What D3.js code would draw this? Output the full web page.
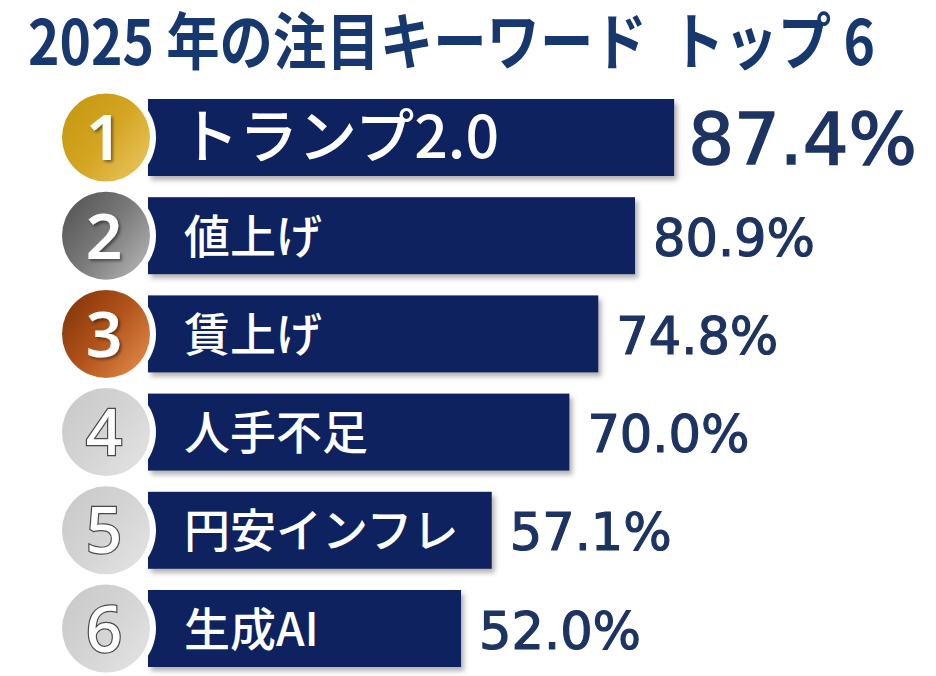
<!DOCTYPE html>
<html>
<head>
<meta charset="utf-8">
<script src="https://cdn.jsdelivr.net/npm/d3@7"></script>
<style>
  html, body { margin: 0; padding: 0; background: #fff; }
  svg { display: block; }
</style>
</head>
<body>
<script>
const title = "2025 年の注目キーワード  トップ 6";
const ranks = ["1", "2", "3", "4", "5", "6"];
const keywords = ["トランプ2.0", "値上げ", "賃上げ", "人手不足", "円安インフレ", "生成AI"];
const values = [87.4, 80.9, 74.8, 70.0, 57.1, 52.0];

const w = 936, h = 676;
const navy = "#0b205e";
const textNavy = "#1d3462";

const svg = d3.select("body").append("svg")
  .attr("width", w)
  .attr("height", h);

const defs = svg.append("defs");

// drop shadow for bars
const shadow = defs.append("filter").attr("id", "shadow")
  .attr("x", "-5%").attr("y", "-10%").attr("width", "115%").attr("height", "130%");
shadow.append("feDropShadow")
  .attr("dx", 3).attr("dy", 4).attr("stdDeviation", 2.5)
  .attr("flood-color", "#555").attr("flood-opacity", 0.45);

const numShadow = defs.append("filter").attr("id", "numShadow")
  .attr("x", "-30%").attr("y", "-30%").attr("width", "160%").attr("height", "160%");
numShadow.append("feDropShadow")
  .attr("dx", 2).attr("dy", 2).attr("stdDeviation", 1.5)
  .attr("flood-color", "#000").attr("flood-opacity", 0.45);

// medal gradients
const medalStops = [
  ["#c4950c", "#d4a522", "#e6c35a"],
  ["#4f4f4f", "#7a7a7a", "#b0b0b0"],
  ["#7e2f06", "#b2541b", "#de8748"],
  ["#c8c8c8", "#d4d4d4", "#e2e2e2"],
  ["#c8c8c8", "#d4d4d4", "#e2e2e2"],
  ["#c8c8c8", "#d4d4d4", "#e2e2e2"]
];
medalStops.forEach((s, i) => {
  const g = defs.append("linearGradient").attr("id", "medal" + i)
    .attr("x1", "0%").attr("y1", "0%").attr("x2", "100%").attr("y2", "80%");
  g.append("stop").attr("offset", "0%").attr("stop-color", s[0]);
  g.append("stop").attr("offset", "55%").attr("stop-color", s[1]);
  g.append("stop").attr("offset", "100%").attr("stop-color", s[2]);
});

const x = d3.scaleLinear()
  .domain([0, 100])
  .range([148, 750]);

const y = d3.scaleBand()
  .domain(ranks)
  .range([99, 667])
  .paddingInner(0.216)
  .paddingOuter(0);

// title, squeezed horizontally to look condensed
const titleText = svg.append("text")
  .attr("x", 0)
  .attr("y", 0)
  .style("font-family", "'Noto Sans CJK JP', sans-serif")
  .style("font-weight", 700)
  .style("font-size", "62px")
  .style("white-space", "pre")
  .style("fill", "#17386e")
  .text(title);
const natural = titleText.node().getComputedTextLength();
const sx = 847 / natural;
titleText.attr("transform", "translate(28,65) scale(" + sx + ",1)");

const rows = svg.selectAll(".row")
  .data(ranks)
  .enter().append("g")
  .attr("class", "row");

// bars
rows.append("rect")
  .attr("x", x(0))
  .attr("y", d => y(d))
  .attr("width", (d, i) => x(values[i]) - x(0))
  .attr("height", y.bandwidth())
  .attr("fill", navy)
  .attr("filter", "url(#shadow)");

// white ring behind medal
rows.append("circle")
  .attr("cx", 106)
  .attr("cy", d => y(d) + y.bandwidth() / 2)
  .attr("r", 50)
  .attr("fill", "#fff");

rows.append("circle")
  .attr("cx", 106)
  .attr("cy", d => y(d) + y.bandwidth() / 2)
  .attr("r", 44)
  .attr("fill", (d, i) => "url(#medal" + i + ")");

// rank numbers
rows.append("text")
  .attr("x", 104)
  .attr("y", d => y(d) + y.bandwidth() / 2 + 23)
  .attr("text-anchor", "middle")
  .style("font-family", "'Noto Sans', sans-serif")
  .style("font-weight", (d, i) => i < 3 ? 600 : 500)
  .style("font-size", "64px")
  .style("fill", "#fff")
  .style("stroke", (d, i) => i < 3 ? "none" : "#4a4a4a")
  .style("stroke-width", (d, i) => i < 3 ? 0 : 2.4)
  .style("paint-order", "stroke")
  .attr("filter", (d, i) => i < 3 ? "url(#numShadow)" : null)
  .text(d => d);

// keyword labels
rows.append("text")
  .attr("x", (d, i) => i === 0 ? 180 : 184)
  .attr("y", (d, i) => y(d) + y.bandwidth() / 2 + (i === 0 ? 21 : 17))
  .style("font-family", "'Noto Sans CJK JP', sans-serif")
  .style("font-weight", 500)
  .style("font-size", (d, i) => i === 0 ? "59px" : "46px")
  .style("fill", "#fff")
  .text((d, i) => keywords[i]);

// value labels
rows.append("text")
  .attr("x", (d, i) => x(values[i]) + (i === 0 ? 14 : 18))
  .attr("y", (d, i) => y(d) + y.bandwidth() / 2 + (i === 0 ? 27 : 20))
  .style("font-family", "'DejaVu Sans', sans-serif")
  .style("font-size", (d, i) => i === 0 ? "72px" : "51px")
  .style("fill", textNavy)
  .style("stroke", textNavy)
  .style("stroke-width", (d, i) => i === 0 ? 1.6 : 1.2)
  .text((d, i) => d3.format(".1f")(values[i]) + "%");
</script>
</body>
</html>
